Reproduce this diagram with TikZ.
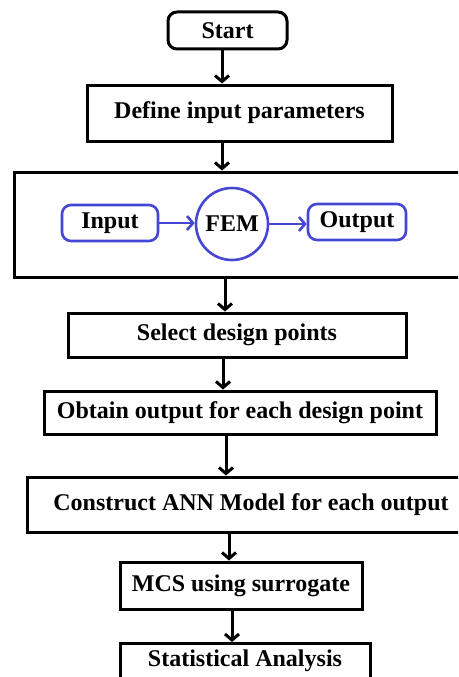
\documentclass[tikz,border=0pt]{standalone}
\usepackage{fontspec}
\setmainfont{Liberation Serif}
\usetikzlibrary{arrows.meta}
\definecolor{fblue}{RGB}{70,70,212}
\tikzset{
  box/.style={draw=black, line width=3pt, inner sep=0pt, font=\bfseries\fontsize{24}{28}\selectfont, text=black},
  term/.style={box, rounded corners=9pt},
  bluebox/.style={draw=fblue, line width=2.6pt, rounded corners=9pt, inner sep=0pt, font=\bfseries\fontsize{24}{28}\selectfont},
  bluecirc/.style={draw=fblue, line width=2.6pt, circle, inner sep=0pt, font=\bfseries\fontsize{24}{28}\selectfont},
  flow/.style={line width=3pt, -{Straight Barb[length=6pt,width=14pt,line width=3pt]}},
  bflow/.style={draw=fblue, line width=2.6pt, -{Straight Barb[length=6pt,width=14pt,line width=2.6pt]}},
}
\begin{document}
\begin{tikzpicture}[x=1pt,y=-1pt]
\useasboundingbox (0,0) rectangle (458,677);
\clip (0,0) rectangle (458,677);
\node[term, minimum width=119pt, minimum height=37pt] (start) at (227.5,30.5) {Start};
\node[box, minimum width=305pt, minimum height=56pt] (define) at (239.5,113) {Define input parameters};
\node[box, minimum width=461pt, minimum height=105pt] (big) at (244.5,224.5) {};
\node[bluebox, minimum width=96pt, minimum height=36pt] (input) at (110,223) {Input};
\node[bluecirc, minimum size=72pt] (fem) at (232,224) {FEM};
\node[bluebox, minimum width=98pt, minimum height=36pt] (output) at (357,222) {Output};
\node[box, minimum width=338pt, minimum height=44pt] (select) at (237,335) {Select design points};
\node[box, minimum width=392pt, minimum height=43pt] (obtain) at (240,412.5) {Obtain output for each design point};
\node[box, minimum width=448pt, minimum height=55pt] (construct) at (251,504.5) {Construct ANN Model for each output};
\node[box, minimum width=242pt, minimum height=47pt] (mcs) at (241,585.5) {MCS using surrogate};
\node[box, anchor=north, minimum width=250pt, inner ysep=2pt, text height=21pt, text depth=30pt] (stat) at (245,642) {Statistical Analysis};
\draw[flow] ([xshift=-5.5pt]start.south) -- ([xshift=-5.5pt]start.south |- define.north);
\draw[flow] ([xshift=-17.5pt]define.south) -- ([xshift=-17.5pt]define.south |- big.north);
\draw[flow] ([xshift=-19.5pt]big.south) -- ([xshift=-19.5pt]big.south |- select.north);
\draw[flow] ([xshift=-14pt]select.south) -- ([xshift=-14pt]select.south |- obtain.north);
\draw[flow] ([xshift=-14pt]obtain.south) -- ([xshift=-14pt]obtain.south |- construct.north);
\draw[flow] ([xshift=-22pt]construct.south) -- ([xshift=-22pt]construct.south |- mcs.north);
\draw[flow] ([xshift=-9pt]mcs.south) -- ([xshift=-9pt]mcs.south |- stat.north);
\draw[bflow] (input.east) -- (input.east -| fem.west);
\draw[bflow] (fem.east) -- (fem.east -| output.west);
\end{tikzpicture}
\end{document}
